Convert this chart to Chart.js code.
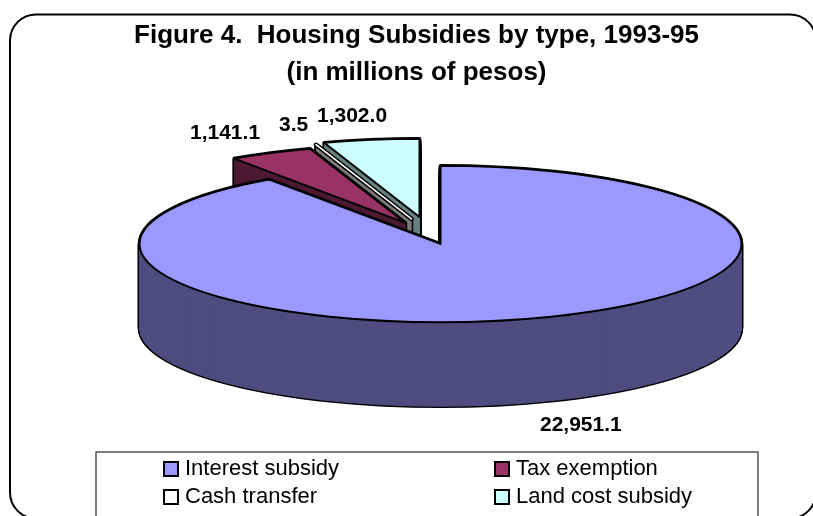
<!DOCTYPE html>
<html>
<head>
<meta charset="utf-8">
<style>
  body { margin: 0; background: #fff; overflow: hidden; }
  canvas { display: block; }
</style>
<script src="https://cdn.jsdelivr.net/npm/chart.js@4/dist/chart.umd.min.js"></script>
</head>
<body>
<canvas id="housing" width="813" height="516"></canvas>
<script>
const categories = ['Interest subsidy', 'Tax exemption', 'Cash transfer', 'Land cost subsidy'];
const subsidies = [22951.1, 1141.1, 3.5, 1302.0];
const titleLines = ['Figure 4.  Housing Subsidies by type, 1993-95', '(in millions of pesos)'];

const topColors = ['#9999ff', '#993366', '#ffffff', '#ccffff'];
const sideColors = ['#4d4d80', '#4d1a33', '#808080', '#668080'];
const pulledOut = [[0, 0], [-35, -21], [-29, -25], [-21, -27]];
const labelSpots = [[540, 431], [190, 139], [279, 131], [317, 122]];
const legendSpots = [[164, 462], [495, 462], [164, 490], [495, 490]];

const RADIUS = 301, TILT = 0.26, DEPTH = 84;
const FONT = '"Liberation Sans", Arial, sans-serif';

function wedge(ctx, arc, cx, cy) {
  ctx.beginPath();
  ctx.moveTo(cx, cy);
  ctx.ellipse(cx, cy, arc.outerRadius, arc.outerRadius * TILT, 0, arc.startAngle, arc.endAngle);
  ctx.closePath();
}

function drawSlice(ctx, arc, i) {
  const cx = arc.x + pulledOut[i][0];
  const cy = arc.y + pulledOut[i][1];
  // the side is a stack of the same wedge, black pass first so an outline is left round it
  ctx.strokeStyle = '#000';
  ctx.lineJoin = 'round';
  ctx.lineWidth = 3.5;
  for (let d = DEPTH; d >= 0; d--) {
    wedge(ctx, arc, cx, cy + d);
    ctx.stroke();
  }
  ctx.fillStyle = sideColors[i];
  ctx.strokeStyle = sideColors[i];
  ctx.lineWidth = 1;
  for (let d = DEPTH; d >= 0; d--) {
    wedge(ctx, arc, cx, cy + d);
    ctx.fill();
    ctx.stroke();
  }
  wedge(ctx, arc, cx, cy);
  ctx.fillStyle = topColors[i];
  ctx.fill();
  ctx.strokeStyle = '#000';
  ctx.lineWidth = 2;
  ctx.stroke();
  // the cash slice is thinner than a pixel, keep its white face visible
  if (arc.circumference < 0.01) {
    ctx.lineWidth = 4.5;
    ctx.stroke();
    ctx.strokeStyle = topColors[i];
    ctx.lineWidth = 1.5;
    ctx.stroke();
  }
}

const pie3d = {
  id: 'pie3d',
  afterLayout(chart) {
    // title sits left of the pie centre in the original
    chart.titleBlock.left -= 48;
  },
  beforeDraw(chart) {
    const ctx = chart.ctx;
    ctx.save();
    ctx.fillStyle = '#fff';
    ctx.fillRect(0, 0, 813, 516);
    ctx.beginPath();
    ctx.roundRect(10, 14.5, 806, 504, 26);
    ctx.strokeStyle = '#000';
    ctx.lineWidth = 2;
    ctx.stroke();
    ctx.strokeStyle = '#555';
    ctx.lineWidth = 1.5;
    ctx.strokeRect(96, 452, 662, 70);
    ctx.restore();
  },
  beforeDatasetsDraw(chart) {
    const ctx = chart.ctx;
    const arcs = chart.getDatasetMeta(0).data;
    ctx.save();
    [3, 2, 1, 0].forEach(i => drawSlice(ctx, arcs[i], i));
    ctx.restore();
    return false;
  },
  afterDraw(chart) {
    const ctx = chart.ctx;
    ctx.save();
    ctx.fillStyle = '#000';
    ctx.textBaseline = 'alphabetic';
    ctx.textAlign = 'left';
    ctx.font = 'bold 21px ' + FONT;
    subsidies.forEach((v, i) => {
      const text = v.toLocaleString('en-US', { minimumFractionDigits: 1, maximumFractionDigits: 1 });
      ctx.fillText(text, labelSpots[i][0], labelSpots[i][1]);
    });
    ctx.font = '22px ' + FONT;
    categories.forEach((name, i) => {
      const [x, y] = legendSpots[i];
      ctx.fillStyle = topColors[i];
      ctx.fillRect(x, y, 14, 14);
      ctx.strokeStyle = '#000';
      ctx.lineWidth = 2;
      ctx.strokeRect(x, y, 14, 14);
      ctx.fillStyle = '#000';
      ctx.fillText(name, x + 21, y + 13);
    });
    ctx.restore();
  }
};

new Chart(document.getElementById('housing').getContext('2d'), {
  type: 'pie',
  data: {
    labels: categories,
    datasets: [{
      data: subsidies,
      backgroundColor: topColors,
      radius: RADIUS
    }]
  },
  plugins: [pie3d],
  options: {
    responsive: false,
    animation: false,
    layout: { padding: { left: 68, bottom: 119.5 } },
    plugins: {
      legend: { display: false },
      tooltip: { enabled: false },
      title: {
        display: true,
        text: titleLines,
        color: '#000',
        font: { family: FONT, size: 26, weight: 'bold', lineHeight: 1.42 },
        padding: { top: 17.5, bottom: 0 }
      }
    }
  }
});
</script>
</body>
</html>
